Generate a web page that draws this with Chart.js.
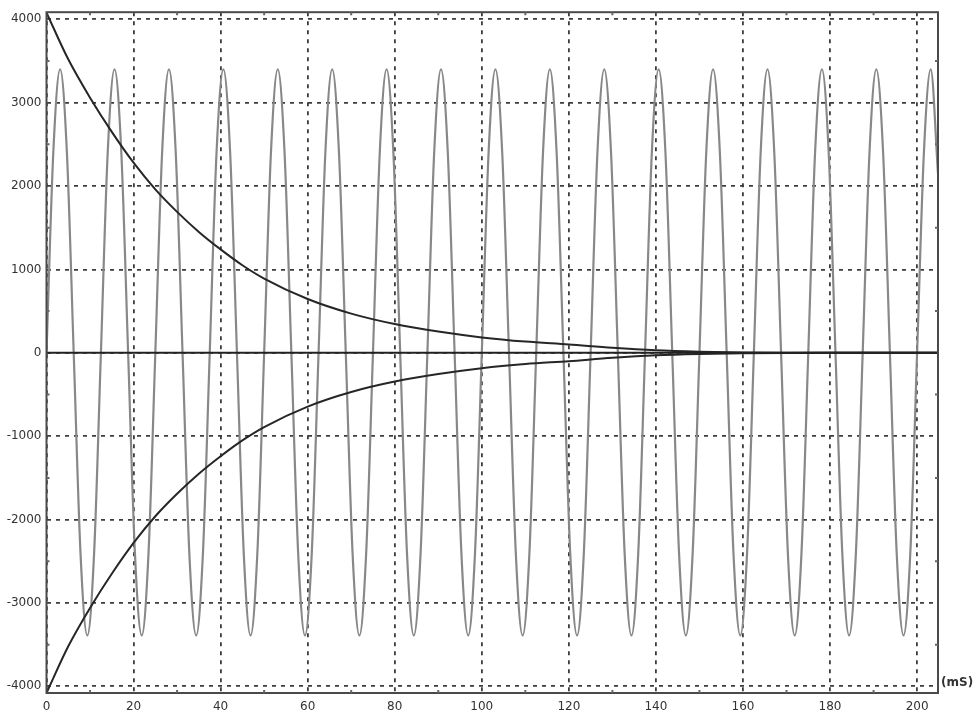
<!DOCTYPE html>
<html>
<head>
<meta charset="utf-8">
<script src="https://cdn.jsdelivr.net/npm/chart.js@4/dist/chart.umd.min.js"></script>
<style>
  html, body { margin: 0; padding: 0; background: #fff; }
  #wrap { width: 975px; height: 719px; }
</style>
</head>
<body>
<div id="wrap"><canvas id="scope"></canvas></div>
<script>
// Sine signal, read at 8 points per 12.5 mS cycle (mS, value)
const sineTimes = [
  0, 1.56, 3.13, 4.69, 6.25, 7.81, 9.38, 10.94,
  12.5, 14.06, 15.63, 17.19, 18.75, 20.31, 21.88, 23.44,
  25, 26.56, 28.13, 29.69, 31.25, 32.81, 34.38, 35.94,
  37.5, 39.06, 40.63, 42.19, 43.75, 45.31, 46.88, 48.44,
  50, 51.56, 53.13, 54.69, 56.25, 57.81, 59.38, 60.94,
  62.5, 64.06, 65.63, 67.19, 68.75, 70.31, 71.88, 73.44,
  75, 76.56, 78.13, 79.69, 81.25, 82.81, 84.38, 85.94,
  87.5, 89.06, 90.63, 92.19, 93.75, 95.31, 96.88, 98.44,
  100, 101.56, 103.13, 104.69, 106.25, 107.81, 109.38, 110.94,
  112.5, 114.06, 115.63, 117.19, 118.75, 120.31, 121.88, 123.44,
  125, 126.56, 128.13, 129.69, 131.25, 132.81, 134.38, 135.94,
  137.5, 139.06, 140.63, 142.19, 143.75, 145.31, 146.88, 148.44,
  150, 151.56, 153.13, 154.69, 156.25, 157.81, 159.38, 160.94,
  162.5, 164.06, 165.63, 167.19, 168.75, 170.31, 171.88, 173.44,
  175, 176.56, 178.13, 179.69, 181.25, 182.81, 184.38, 185.94,
  187.5, 189.06, 190.63, 192.19, 193.75, 195.31, 196.88, 198.44,
  200, 201.56, 203.13, 204.8
];
const sineValues = [
  0, 2400, 3400, 2400, 0, -2400, -3390, -2400,
  0, 2400, 3400, 2400, 0, -2400, -3390, -2400,
  0, 2400, 3400, 2400, 0, -2400, -3390, -2400,
  0, 2400, 3400, 2400, 0, -2400, -3390, -2400,
  0, 2400, 3400, 2400, 0, -2400, -3390, -2400,
  0, 2400, 3400, 2400, 0, -2400, -3390, -2400,
  0, 2400, 3400, 2400, 0, -2400, -3390, -2400,
  0, 2400, 3400, 2400, 0, -2400, -3390, -2400,
  0, 2400, 3400, 2400, 0, -2400, -3390, -2400,
  0, 2400, 3400, 2400, 0, -2400, -3390, -2400,
  0, 2400, 3400, 2400, 0, -2400, -3390, -2400,
  0, 2400, 3400, 2400, 0, -2400, -3390, -2400,
  0, 2400, 3400, 2400, 0, -2400, -3390, -2400,
  0, 2400, 3400, 2400, 0, -2400, -3390, -2400,
  0, 2400, 3400, 2400, 0, -2400, -3390, -2400,
  0, 2400, 3400, 2400, 0, -2400, -3390, -2400,
  0, 2400, 3400, 2150
];

// Decay envelopes
const envTimes = [0, 5, 10, 15, 20, 25, 30, 35, 40, 45, 50, 60, 70, 80, 90,
                  100, 110, 120, 130, 140, 150, 160, 170, 180, 190, 204.8];
const envUpper = [4080, 3520, 3060, 2650, 2280, 1960, 1690, 1450, 1240, 1050, 890,
                  645, 470, 345, 255, 185, 135, 100, 60, 30, 14, 5, 1, 0, 0, 0];
const envLower = [-4080, -3520, -3060, -2650, -2280, -1960, -1690, -1450, -1240, -1050, -890,
                  -645, -470, -345, -255, -185, -135, -100, -60, -30, -14, -5, -1, 0, 0, 0];

// Zero reference line
const zeroTimes = [0, 204.8];
const zeroValues = [0, 0];

// Axis ticks
const xTicks = [0, 20, 40, 60, 80, 100, 120, 140, 160, 180, 200];
const yTicks = [-4000, -3000, -2000, -1000, 0, 1000, 2000, 3000, 4000];
const xMinor = [10, 30, 50, 70, 90, 110, 130, 150, 170, 190];
const yMinor = [-3500, -2500, -1500, -500, 500, 1500, 2500, 3500];

const toPoints = (xs, ys) => xs.map((x, i) => ({ x: x, y: ys[i] }));

// frame, minor ticks and unit label
const framePlugin = {
    id: 'frame',
    afterDraw(chart) {
        const { ctx, chartArea: a, scales } = chart;
        ctx.save();
        ctx.strokeStyle = '#4a4a4a';
        ctx.lineWidth = 2;
        ctx.strokeRect(a.left, a.top, a.right - a.left, a.bottom - a.top);

        ctx.strokeStyle = '#666';
        ctx.beginPath();
        xMinor.forEach(v => {
            const px = scales.x.getPixelForValue(v);
            ctx.moveTo(px, a.bottom); ctx.lineTo(px, a.bottom - 3);
            ctx.moveTo(px, a.top); ctx.lineTo(px, a.top + 3);
        });
        yMinor.forEach(v => {
            const py = scales.y.getPixelForValue(v);
            ctx.moveTo(a.left, py); ctx.lineTo(a.left + 3, py);
            ctx.moveTo(a.right, py); ctx.lineTo(a.right - 3, py);
        });
        ctx.stroke();

        ctx.fillStyle = '#333';
        ctx.font = 'bold 12px "DejaVu Sans"';
        ctx.textAlign = 'left';
        ctx.textBaseline = 'middle';
        ctx.fillText('(mS)', a.right + 3, a.bottom - 10);
        ctx.restore();
    }
};

const lineBase = { pointRadius: 0, fill: false, borderWidth: 2 };
const tickFont = { family: 'DejaVu Sans', size: 12 };

new Chart(document.getElementById('scope'), {
    type: 'line',
    data: {
        datasets: [
            { ...lineBase, data: toPoints(zeroTimes, zeroValues), borderColor: '#222' },
            { ...lineBase, data: toPoints(envTimes, envUpper), borderColor: '#262626', cubicInterpolationMode: 'monotone' },
            { ...lineBase, data: toPoints(envTimes, envLower), borderColor: '#262626', cubicInterpolationMode: 'monotone' },
            { ...lineBase, data: toPoints(sineTimes, sineValues), borderColor: '#888', borderWidth: 2.2, cubicInterpolationMode: 'monotone' }
        ]
    },
    options: {
        responsive: true,
        maintainAspectRatio: false,
        animation: false,
        layout: { padding: { top: 4, right: 37, bottom: 0, left: 0 } },
        plugins: {
            legend: { display: false },
            tooltip: { enabled: false }
        },
        scales: {
            x: {
                type: 'linear',
                min: 0,
                max: 204.8,
                afterBuildTicks: s => { s.ticks = xTicks.map(v => ({ value: v })); },
                afterFit: s => { s.height = 26; },
                ticks: { color: '#333', font: tickFont, padding: 7, maxRotation: 0, callback: v => String(v) },
                grid: { color: '#3c3c3c', lineWidth: 1.8, drawTicks: false },
                border: { display: false, dash: [4, 5] }
            },
            y: {
                type: 'linear',
                min: -4080,
                max: 4085,
                afterBuildTicks: s => { s.ticks = yTicks.map(v => ({ value: v })); },
                afterFit: s => { s.width = 46.5; },
                ticks: { color: '#333', font: tickFont, padding: 5, callback: v => String(v) },
                grid: { color: '#3c3c3c', lineWidth: 1.8, drawTicks: false },
                border: { display: false, dash: [4, 5] }
            }
        }
    },
    plugins: [framePlugin]
});
</script>
</body>
</html>
